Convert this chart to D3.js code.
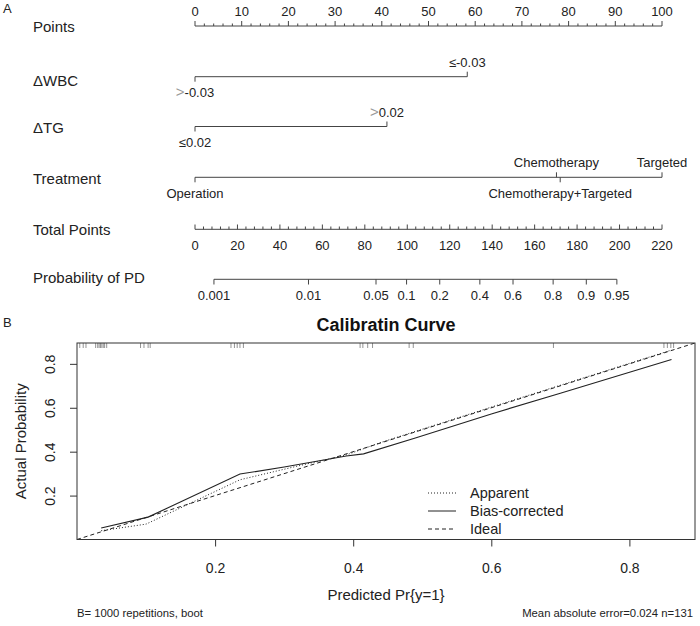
<!DOCTYPE html>
<html>
<head>
<meta charset="utf-8">
<script src="https://cdn.jsdelivr.net/npm/d3@7"></script>
<style>
  body { margin: 0; background: #fff; }
  svg { display: block; font-family: Arial, "Liberation Sans", sans-serif; }
</style>
</head>
<body>
<div class="chart"></div>
<script>
// ---- nomogram data ----
var pointsTicks = [0, 10, 20, 30, 40, 50, 60, 70, 80, 90, 100];
var totalTicks = [0, 20, 40, 60, 80, 100, 120, 140, 160, 180, 200, 220];
var probTicks = [0.001, 0.01, 0.05, 0.1, 0.2, 0.4, 0.6, 0.8, 0.9, 0.95];
var wbcLevels = ["≤-0.03", ">-0.03"];
var wbcPoints = [58.3, 0];
var tgLevels = ["≤0.02", ">0.02"];
var tgPoints = [0, 41.1];
var treatLevels = ["Operation", "Chemotherapy", "Chemotherapy+Targeted", "Targeted"];
var treatPoints = [0, 77.4, 78.2, 100];
var lpIntercept = -7.37;   // linear predictor = lpIntercept + lpSlope * total points
var lpSlope = 0.0519;

// ---- calibration data ----
var calTicks = [0.2, 0.4, 0.6, 0.8];
var apparentX = [0.035, 0.1, 0.236, 0.32, 0.39, 0.44, 0.6, 0.861];
var apparentY = [0.04, 0.07, 0.272, 0.335, 0.385, 0.442, 0.603, 0.863];
var correctedX = [0.035, 0.103, 0.236, 0.30, 0.39, 0.415, 0.49, 0.6, 0.7, 0.861];
var correctedY = [0.052, 0.102, 0.298, 0.33, 0.38, 0.39, 0.462, 0.572, 0.666, 0.82];
var rugX = [0.004, 0.009, 0.013, 0.027, 0.030, 0.032, 0.034, 0.036, 0.038, 0.040, 0.043,
            0.092, 0.097, 0.103, 0.106, 0.223, 0.228, 0.232, 0.236, 0.241,
            0.410, 0.414, 0.421, 0.428, 0.481, 0.487, 0.690, 0.850, 0.855, 0.860, 0.864];
var legendNames = ["Apparent", "Bias-corrected", "Ideal"];

var w = 700, h = 626;
var ink = "#222", lineCol = "#444";

var svg = d3.select(".chart").append("svg")
            .attr("width", w)
            .attr("height", h);

// ================= A: nomogram =================
var px = d3.scaleLinear().domain([0, 100]).range([195, 662]);
var tx = d3.scaleLinear().domain([0, 220]).range([195, 662]);
var probX = function(p) {
  var lp = Math.log(p / (1 - p));
  return tx((lp - lpIntercept) / lpSlope);
};

svg.append("text").attr("x", 3).attr("y", 13).attr("font-size", 13).attr("fill", ink).text("A");

var rowLabels = [["Points", 32.4], ["ΔWBC", 85.7], ["ΔTG", 133], ["Treatment", 184],
                 ["Total Points", 235], ["Probability of PD", 283.3]];
svg.selectAll(".rowlab").data(rowLabels).enter().append("text")
   .attr("class", "rowlab")
   .attr("x", 33).attr("y", function(d){ return d[1]; })
   .attr("font-size", 15).attr("fill", ink)
   .text(function(d){ return d[0]; });

// Points axis (ticks up, labels above)
var gP = svg.append("g");
gP.append("line").attr("x1", px(0)).attr("x2", px(100)).attr("y1", 26).attr("y2", 26)
  .attr("stroke", lineCol);
gP.selectAll(".minor").data(d3.range(0, 101, 2)).enter().append("line")
  .attr("x1", function(d){ return px(d); }).attr("x2", function(d){ return px(d); })
  .attr("y1", 26).attr("y2", function(d){ return d % 10 === 0 ? 21 : 23.5; })
  .attr("stroke", lineCol);
gP.selectAll("text").data(pointsTicks).enter().append("text")
  .attr("x", function(d){ return px(d); }).attr("y", 15.5)
  .attr("text-anchor", "middle").attr("font-size", 13).attr("fill", ink)
  .text(function(d){ return d; });

// variable rows
function drawVar(levels, pts, lineY, sides) {
  var g = svg.append("g");
  g.append("line").attr("x1", px(d3.min(pts))).attr("x2", px(d3.max(pts)))
   .attr("y1", lineY).attr("y2", lineY).attr("stroke", lineCol);
  levels.forEach(function(lev, i) {
    var x = px(pts[i]);
    var up = sides[i] === "above";
    g.append("line").attr("x1", x).attr("x2", x)
     .attr("y1", lineY).attr("y2", up ? lineY - 5 : lineY + 5).attr("stroke", lineCol);
    var t = g.append("text").attr("x", x).attr("y", up ? lineY - 10 : lineY + 20.5)
             .attr("text-anchor", "middle").attr("font-size", 13).attr("fill", ink);
    if (lev.charAt(0) === ">") {
      t.append("tspan").attr("fill", "#999").attr("font-size", 15).text(">");
      t.append("tspan").text(lev.slice(1));
    } else {
      t.text(lev);
    }
  });
}
drawVar(wbcLevels, wbcPoints, 76.7, ["above", "below"]);
drawVar(tgLevels, tgPoints, 126.5, ["below", "above"]);
drawVar(treatLevels, treatPoints, 177.3, ["below", "above", "below", "above"]);

// Total points axis (ticks up, labels below)
var gT = svg.append("g");
gT.append("line").attr("x1", tx(0)).attr("x2", tx(220)).attr("y1", 229.3).attr("y2", 229.3)
  .attr("stroke", lineCol);
gT.selectAll(".minor").data(d3.range(0, 221, 4)).enter().append("line")
  .attr("x1", function(d){ return tx(d); }).attr("x2", function(d){ return tx(d); })
  .attr("y1", 229.3).attr("y2", function(d){ return d % 20 === 0 ? 224.5 : 226.5; })
  .attr("stroke", lineCol);
gT.selectAll("text").data(totalTicks).enter().append("text")
  .attr("x", function(d){ return tx(d); }).attr("y", 250)
  .attr("text-anchor", "middle").attr("font-size", 13).attr("fill", ink)
  .text(function(d){ return d; });

// Probability axis (ticks down, labels below)
var gR = svg.append("g");
gR.append("line").attr("x1", probX(probTicks[0])).attr("x2", probX(probTicks[probTicks.length - 1]))
  .attr("y1", 279.3).attr("y2", 279.3).attr("stroke", lineCol);
gR.selectAll(".tk").data(probTicks).enter().append("line")
  .attr("x1", function(d){ return probX(d); }).attr("x2", function(d){ return probX(d); })
  .attr("y1", 279.3).attr("y2", 284.5).attr("stroke", lineCol);
gR.selectAll("text").data(probTicks).enter().append("text")
  .attr("x", function(d){ return probX(d); }).attr("y", 300)
  .attr("text-anchor", "middle").attr("font-size", 13).attr("fill", ink)
  .text(function(d){ return d; });

// ================= B: calibration =================
var pLeft = 77, pRight = 695, pTop = 343, pBottom = 539.5;
var x = d3.scaleLinear().domain([0, 0.895]).range([pLeft, pRight]);
var y = d3.scaleLinear().domain([0, 0.895]).range([pBottom, pTop]);

svg.append("text").attr("x", 3).attr("y", 327).attr("font-size", 13).attr("fill", ink).text("B");
svg.append("text").attr("x", (pLeft + pRight) / 2).attr("y", 331)
   .attr("text-anchor", "middle").attr("font-size", 18).attr("font-weight", "bold")
   .attr("fill", "#111").text("Calibratin Curve");

svg.append("clipPath").attr("id", "box")
   .append("rect").attr("x", pLeft).attr("y", pTop).attr("width", pRight - pLeft).attr("height", pBottom - pTop);

// rug
svg.append("g").selectAll("line").data(rugX).enter().append("line")
   .attr("x1", function(d){ return x(d); }).attr("x2", function(d){ return x(d); })
   .attr("y1", pTop).attr("y2", pTop + 5)
   .attr("stroke", "#777").attr("stroke-width", 0.8);

var line = d3.line().x(function(d){ return x(d[0]); }).y(function(d){ return y(d[1]); });
var plot = svg.append("g").attr("clip-path", "url(#box)");
plot.append("path").datum([[0, 0], [0.895, 0.895]]).attr("d", line)
    .attr("fill", "none").attr("stroke", ink).attr("stroke-dasharray", "4,3");
plot.append("path").datum(d3.zip(apparentX, apparentY)).attr("d", line)
    .attr("fill", "none").attr("stroke", ink).attr("stroke-dasharray", "1,2");
plot.append("path").datum(d3.zip(correctedX, correctedY)).attr("d", line)
    .attr("fill", "none").attr("stroke", ink).attr("stroke-width", 1.1);

svg.append("rect").attr("x", pLeft).attr("y", pTop).attr("width", pRight - pLeft).attr("height", pBottom - pTop)
   .attr("fill", "none").attr("stroke", "#333");

// axes
var xAxis = svg.append("g").attr("transform", "translate(0," + pBottom + ")")
   .call(d3.axisBottom(x).tickValues(calTicks).tickSize(7).tickPadding(17)
         .tickFormat(d3.format(".1f")));
xAxis.select(".domain").remove();
xAxis.selectAll("text").attr("font-size", 14).attr("fill", ink).attr("font-family", null);
xAxis.selectAll("line").attr("stroke", "#333");

var yAxis = svg.append("g").attr("transform", "translate(" + pLeft + ",0)")
   .call(d3.axisLeft(y).tickValues(calTicks).tickSize(7).tickFormat(d3.format(".1f")));
yAxis.select(".domain").remove();
yAxis.selectAll("line").attr("stroke", "#333");
yAxis.selectAll("text").remove();
yAxis.selectAll(".tick").append("text")
   .attr("transform", "translate(-22,0) rotate(-90)")
   .attr("text-anchor", "middle").attr("font-size", 14).attr("fill", ink)
   .text(function(d){ return d3.format(".1f")(d); });

svg.append("text").attr("x", (pLeft + pRight) / 2).attr("y", 600)
   .attr("text-anchor", "middle").attr("font-size", 15).attr("fill", ink)
   .text("Predicted Pr{y=1}");
svg.append("text").attr("transform", "translate(26," + ((pTop + pBottom) / 2) + ") rotate(-90)")
   .attr("text-anchor", "middle").attr("font-size", 15).attr("fill", ink)
   .text("Actual Probability");

// legend
var dashes = ["1,2", null, "4,3"];
var leg = svg.append("g").selectAll("g").data(legendNames).enter().append("g")
   .attr("transform", function(d, i){ return "translate(428," + (493 + i * 18) + ")"; });
leg.append("line").attr("x1", 0).attr("x2", 28).attr("y1", 0).attr("y2", 0)
   .attr("stroke", ink).attr("stroke-dasharray", function(d, i){ return dashes[i]; });
leg.append("text").attr("x", 42).attr("y", 5).attr("font-size", 14.5).attr("fill", ink)
   .text(function(d){ return d; });

// footnotes
svg.append("text").attr("x", pLeft).attr("y", 617).attr("font-size", 11.3).attr("fill", ink)
   .text("B= 1000 repetitions, boot");
svg.append("text").attr("x", 693).attr("y", 617).attr("text-anchor", "end")
   .attr("font-size", 11.3).attr("fill", ink)
   .text("Mean absolute error=0.024 n=131");
</script>
</body>
</html>
